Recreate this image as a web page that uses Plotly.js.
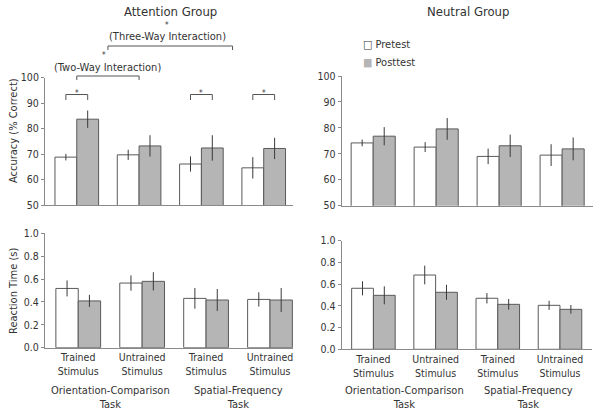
<!DOCTYPE html>
<html>
<head>
<meta charset="utf-8">
<script src="https://cdn.plot.ly/plotly-3.0.1.min.js"></script>
<style>html,body{margin:0;padding:0;background:#fff;} #chart{width:600px;height:414px;}</style>
</head>
<body>
<div id="chart"></div>
<script>
// ---- data ----
var positions = [0, 1, 2, 3];
var stimulusLabels = ['Trained<br>Stimulus', 'Untrained<br>Stimulus', 'Trained<br>Stimulus', 'Untrained<br>Stimulus'];
var taskLabels = ['Orientation-Comparison<br>Task', 'Spatial-Frequency<br>Task'];
var taskCenters = [0.5, 2.5];
var seriesNames = ['Pretest', 'Posttest'];
var yTitles = ['Accuracy (% Correct)', 'Reaction Time (s)'];

var attAccPre = [68.8, 69.7, 66.1, 64.6];
var attAccPreErr = [1.3, 2.0, 3.0, 4.2];
var attAccPost = [83.7, 73.2, 72.4, 72.2];
var attAccPostErr = [3.4, 4.2, 5.0, 4.2];

var neuAccPre = [74.2, 72.6, 69.0, 69.5];
var neuAccPreErr = [1.3, 1.9, 3.0, 4.2];
var neuAccPost = [76.8, 79.6, 73.1, 71.9];
var neuAccPostErr = [3.5, 4.2, 4.3, 4.4];

var attRtPre = [0.518, 0.565, 0.431, 0.422];
var attRtPreErr = [0.070, 0.067, 0.090, 0.062];
var attRtPost = [0.409, 0.580, 0.417, 0.417];
var attRtPostErr = [0.053, 0.080, 0.096, 0.105];

var neuRtPre = [0.562, 0.684, 0.470, 0.405];
var neuRtPreErr = [0.065, 0.086, 0.048, 0.042];
var neuRtPost = [0.497, 0.525, 0.414, 0.368];
var neuRtPostErr = [0.083, 0.069, 0.049, 0.040];

// ---- styling ----
var FONT = '"DejaVu Sans Condensed", "Liberation Sans Narrow", sans-serif';
var preFill = '#ffffff', postFill = '#b5b5b5', outline = '#5a5a5a', errColor = '#3a3a3a', axisColor = '#8a8a8a', textColor = '#333';
function px(x) { return x / 600; }
function py(y) { return 1 - y / 414; }

function barTrace(y, err, name, fill, xa, ya) {
  return {
    type: 'bar', x: positions, y: y, name: name,
    xaxis: xa, yaxis: ya, showlegend: false,
    marker: { color: fill, line: { color: outline, width: 1 } },
    error_y: { type: 'data', array: err, visible: true, color: errColor, thickness: 1, width: 0 },
    hoverinfo: 'y'
  };
}

var data = [
  barTrace(attAccPre, attAccPreErr, seriesNames[0], preFill, 'x', 'y'),
  barTrace(attAccPost, attAccPostErr, seriesNames[1], postFill, 'x', 'y'),
  barTrace(neuAccPre, neuAccPreErr, seriesNames[0], preFill, 'x2', 'y2'),
  barTrace(neuAccPost, neuAccPostErr, seriesNames[1], postFill, 'x2', 'y2'),
  barTrace(attRtPre, attRtPreErr, seriesNames[0], preFill, 'x3', 'y3'),
  barTrace(attRtPost, attRtPostErr, seriesNames[1], postFill, 'x3', 'y3'),
  barTrace(neuRtPre, neuRtPreErr, seriesNames[0], preFill, 'x4', 'y4'),
  barTrace(neuRtPost, neuRtPostErr, seriesNames[1], postFill, 'x4', 'y4')
];

function xAxis(dom, range, anchor, labels) {
  return {
    domain: dom, range: range, anchor: anchor, fixedrange: true,
    showline: true, linecolor: axisColor, linewidth: 1, zeroline: false, showgrid: false,
    ticks: '', tickmode: 'array', tickvals: positions, ticktext: labels || ['', '', '', ''],
    showticklabels: !!labels, tickfont: { size: 10.5, color: textColor, family: FONT }
  };
}
function yAxis(dom, range, dtick, anchor, fmt) {
  return {
    domain: dom, range: range, anchor: anchor, fixedrange: true, dtick: dtick, tick0: 0,
    showline: true, linecolor: axisColor, linewidth: 1, zeroline: false, showgrid: false,
    ticks: 'outside', ticklen: 3, tickcolor: axisColor, tickformat: fmt,
    tickfont: { size: 10.5, color: textColor, family: FONT }
  };
}

var shapes = [];
function bracket(xref, x0, x1, yTop, yEnd) {
  shapes.push({ type: 'path', xref: xref, yref: 'paper',
    path: 'M' + x0 + ',' + py(yEnd) + ' L' + x0 + ',' + py(yTop) + ' L' + x1 + ',' + py(yTop) + ' L' + x1 + ',' + py(yEnd),
    line: { color: '#555', width: 1 } });
}
// pre vs post brackets
bracket('x', -0.175, 0.175, 94.5, 100);
bracket('x', 1.825, 2.175, 94.5, 100);
bracket('x', 2.825, 3.175, 94.5, 100);
// two-way interaction
bracket('x', 0, 1, 76, 80);
// three-way interaction
bracket('x', 0.5, 2.5, 46, 50);

var ann = [];
function txt(text, xref, x, y, size, opts) {
  var a = { text: text, xref: xref, yref: 'paper', x: x, y: py(y), showarrow: false,
    font: { size: size, color: textColor, family: FONT }, xanchor: 'center', yanchor: 'middle' };
  for (var k in (opts || {})) a[k] = opts[k];
  ann.push(a);
}
txt('Attention Group', 'paper', px(171), 11, 13);
txt('Neutral Group', 'paper', px(468), 11, 13);
txt('*', 'x', 1.45, 25.5, 8);
txt('(Three-Way Interaction)', 'x', 1.45, 37, 11);
txt('*', 'x', 0.43, 56, 8);
txt('(Two-Way Interaction)', 'x', 0.5, 67.5, 11);
txt('*', 'x', 0, 93, 8);
txt('*', 'x', 2, 93, 8);
txt('*', 'x', 3, 93, 8);
for (var i = 0; i < taskLabels.length; i++) {
  txt(taskLabels[i], 'x3', taskCenters[i], 397, 11);
  txt(taskLabels[i], 'x4', taskCenters[i], 397, 11);
}
// y-axis titles
txt(yTitles[0], 'paper', px(13), 131, 11, { textangle: -90 });
txt(yTitles[1], 'paper', px(13), 291, 11, { textangle: -90 });
// legend
txt('\u25A1 ' + seriesNames[0], 'paper', px(361), 44, 11, { xanchor: 'left' });
txt('<span style="color:' + postFill + '">\u25A0</span> ' + seriesNames[1], 'paper', px(361), 62.5, 11, { xanchor: 'left' });

var layout = {
  width: 600, height: 414,
  margin: { l: 0, r: 0, t: 0, b: 0 },
  paper_bgcolor: '#fff', plot_bgcolor: '#fff',
  font: { family: FONT, color: textColor },
  barmode: 'group', bargap: 0.3, bargroupgap: 0,
  showlegend: false,
  xaxis: xAxis([px(45), px(293)], [-0.51, 3.47], 'y'),
  yaxis: yAxis([py(205), py(77.7)], [50, 100], 10, 'x'),
  xaxis2: xAxis([px(341.7), px(593)], [-0.50, 3.49], 'y2'),
  yaxis2: yAxis([py(205.7), py(76)], [50, 100], 10, 'x2'),
  xaxis3: xAxis([px(45), px(293)], [-0.52, 3.36], 'y3', stimulusLabels),
  yaxis3: yAxis([py(347.7), py(233.3)], [0, 1], 0.2, 'x3', '.1f'),
  xaxis4: xAxis([px(341.7), px(591.7)], [-0.51, 3.51], 'y4', stimulusLabels),
  yaxis4: yAxis([py(349.3), py(240.7)], [0, 1], 0.2, 'x4', '.1f'),
  shapes: shapes,
  annotations: ann
};

Plotly.newPlot('chart', data, layout, { displayModeBar: false, staticPlot: true });
</script>
</body>
</html>
